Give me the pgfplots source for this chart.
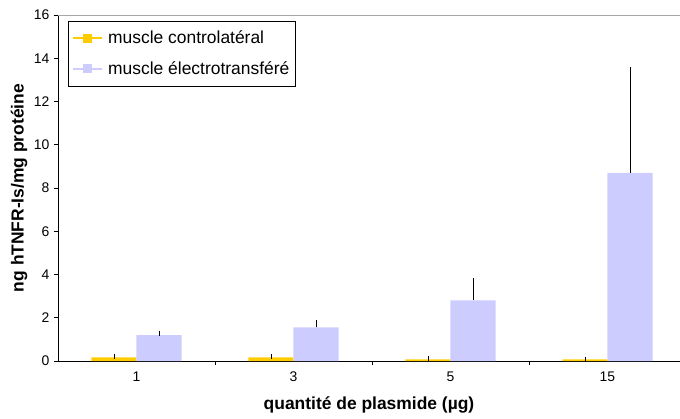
\documentclass[border=0pt]{standalone}
\usepackage{fontspec}
\setmainfont{Liberation Sans}
\usepackage{pgfplots}
\usepackage{pgfplotstable}
\pgfplotsset{compat=1.18}
\definecolor{barY}{RGB}{255,204,0}
\definecolor{barB}{RGB}{204,204,255}

% x = category index, y = mean, ey = upper error
\pgfplotstableread{
x y ey
0 0.17 0.05
1 0.17 0.04
2 0.08 0.03
3 0.07 0.02
}\controle
\pgfplotstableread{
x y ey
0 1.20 0.08
1 1.55 0.25
2 2.80 0.90
3 8.70 4.80
}\electro

\begin{document}
\begin{tikzpicture}
\path[use as bounding box] (-58bp,-58bp) rectangle (622bp,361bp);
\begin{axis}[
    at={(0,0)}, anchor=south west,
    scale only axis, width=622bp, height=346bp,
    xmin=-0.5, xmax=3.462, ymin=0, ymax=16,
    axis x line*=bottom, axis y line*=left,
    axis line style={black, line width=0.8pt},
    ybar, bar width=0.287,
    xtick={0,1,2,3}, xticklabels={1,3,5,15},
    minor xtick={0.5,1.5,2.5},
    major x tick style={draw=none},
    minor tick length=4bp, major tick length=4bp,
    tick align=outside, tick style={black, line width=0.6pt},
    ytick={0,2,...,16},
    /pgf/number format/assume math mode=true,
    tick label style={font=\fontsize{14}{16}\selectfont},
    xticklabel style={yshift=-3bp},
    yticklabel style={xshift=-1bp},
    xlabel={quantité de plasmide (µg)},
    ylabel={ng hTNFR-Is/mg protéine},
    label style={font=\bfseries\fontsize{17.5}{20}\selectfont},
    xlabel style={at={(axis description cs:0.5,-0.128)}, anchor=center},
    ylabel style={at={(axis description cs:-0.0627,0.5)}, anchor=center},
    legend style={at={(axis description cs:0.016,0.983)}, anchor=north west,
        draw=black, fill=white, font=\fontsize{17.5}{20}\selectfont,
        row sep=12bp, inner ysep=8bp, inner xsep=4bp,
        /tikz/every odd column/.append style={column sep=3bp}},
    legend cell align=left,
    error bars/y dir=plus, error bars/y explicit,
    error bars/error bar style={draw=black, line width=0.7pt},
    error bars/error mark options={draw=black, mark size=2.5bp, line width=0.7pt},
]
\addlegendimage{legend image code/.code={
    \draw[barY, line width=2bp] (0bp,0bp) -- (29bp,0bp);
    \fill[barY] (10.5bp,-4bp) rectangle (18.5bp,4bp);}}
\addlegendentry{muscle controlatéral}
\addlegendimage{legend image code/.code={
    \draw[barB, line width=2bp] (0bp,0bp) -- (29bp,0bp);
    \fill[barB] (10.5bp,-4bp) rectangle (18.5bp,4bp);}}
\addlegendentry{muscle électrotransféré}

\addplot[fill=barY, draw=none, bar shift=-0.1435, forget plot]
    table[x=x, y=y, y error=ey] {\controle};
\addplot[fill=barB, draw=none, bar shift=0.1435, forget plot]
    table[x=x, y=y, y error=ey] {\electro};

\draw[gray!70, line width=0.8pt] (rel axis cs:0,1) -- (rel axis cs:1,1);
\end{axis}
\end{tikzpicture}
\end{document}
